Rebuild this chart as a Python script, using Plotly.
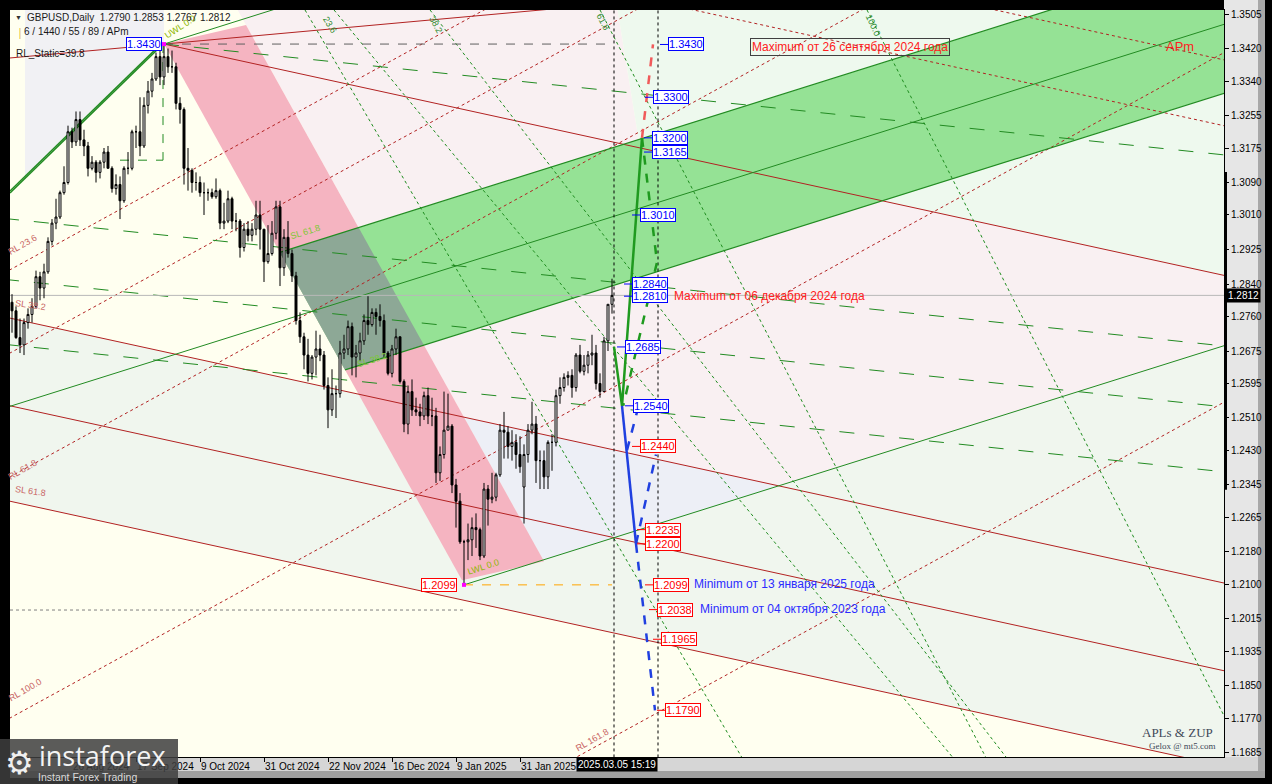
import plotly.graph_objects as go

# ---------------- data ----------------
date_ticks = [15, 31, 47, 63, 79, 95, 111, 127]
date_labels = ["26 Aug 2024", "17 Sep 2024", "9 Oct 2024", "31 Oct 2024",
               "22 Nov 2024", "16 Dec 2024", "9 Jan 2025", "31 Jan 2025"]
price_ticks = [1.3505, 1.3420, 1.3340, 1.3255, 1.3175, 1.3090, 1.3010, 1.2925,
               1.2840, 1.2760, 1.2675, 1.2595, 1.2510, 1.2430, 1.2345, 1.2265,
               1.2180, 1.2100, 1.2015, 1.1935, 1.1850, 1.1770, 1.1685]

# GBPUSD daily, 5 Aug 2024 .. 5 Mar 2025 (bar index 0..150)
opens = [1.2795, 1.2774, 1.2708, 1.2690, 1.2745, 1.2765, 1.2785, 1.2858, 1.2830, 1.2870,
         1.2945, 1.2990, 1.3005, 1.3065, 1.3090, 1.3215, 1.3190, 1.3245, 1.3195, 1.3180,
         1.3125, 1.3140, 1.3115, 1.3140, 1.3165, 1.3125, 1.3075, 1.3085, 1.3045, 1.3125,
         1.3125, 1.3215, 1.3215, 1.3180, 1.3280, 1.3315, 1.3345, 1.3400, 1.3350, 1.3400,
         1.3375, 1.3375, 1.3285, 1.3270, 1.3125, 1.3120, 1.3090, 1.3090, 1.3065, 1.3065,
         1.3065, 1.3055, 1.3070, 1.2990, 1.2995, 1.3050, 1.2995, 1.2995, 1.2930, 1.2975,
         1.2960, 1.2975, 1.3010, 1.2975, 1.2895, 1.2915, 1.2965, 1.3030, 1.2880, 1.2955,
         1.2915, 1.2860, 1.2750, 1.2710, 1.2665, 1.2620, 1.2660, 1.2680, 1.2665, 1.2590,
         1.2530, 1.2570, 1.2570, 1.2670, 1.2680, 1.2735, 1.2660, 1.2670, 1.2700, 1.2750,
         1.2740, 1.2770, 1.2760, 1.2750, 1.2670, 1.2620, 1.2680, 1.2710, 1.2600, 1.2495,
         1.2575, 1.2530, 1.2525, 1.2515, 1.2565, 1.2515, 1.2515, 1.2375, 1.2420, 1.2480,
         1.2490, 1.2345, 1.2305, 1.2205, 1.2205, 1.2210, 1.2240, 1.2235, 1.2170, 1.2335,
         1.2310, 1.2315, 1.2370, 1.2480, 1.2475, 1.2440, 1.2450, 1.2420, 1.2340, 1.2420,
         1.2480, 1.2495, 1.2405, 1.2405, 1.2365, 1.2450, 1.2450, 1.2565, 1.2585, 1.2610,
         1.2615, 1.2585, 1.2665, 1.2625, 1.2640, 1.2665, 1.2670, 1.2595, 1.2575, 1.2700,
         1.2790]
highs = [1.2815, 1.2785, 1.2755, 1.2755, 1.2780, 1.2805, 1.2873, 1.2870, 1.2890, 1.2955,
         1.3000, 1.3050, 1.3070, 1.3130, 1.3230, 1.3225, 1.3265, 1.3265, 1.3220, 1.3190,
         1.3155, 1.3145, 1.3145, 1.3175, 1.3180, 1.3130, 1.3110, 1.3105, 1.3130, 1.3165,
         1.3220, 1.3230, 1.3300, 1.3300, 1.3340, 1.3360, 1.3410, 1.3420, 1.3430, 1.3420,
         1.3415, 1.3385, 1.3300, 1.3275, 1.3175, 1.3125, 1.3115, 1.3105, 1.3090, 1.3075,
         1.3075, 1.3100, 1.3075, 1.3040, 1.3070, 1.3055, 1.3015, 1.3000, 1.2990, 1.2995,
         1.2990, 1.3045, 1.3045, 1.2975, 1.2985, 1.2995, 1.3045, 1.3045, 1.2975, 1.2995,
         1.2925, 1.2870, 1.2770, 1.2720, 1.2705, 1.2665, 1.2725, 1.2715, 1.2675, 1.2610,
         1.2630, 1.2590, 1.2700, 1.2715, 1.2750, 1.2745, 1.2690, 1.2720, 1.2765, 1.2810,
         1.2780, 1.2780, 1.2790, 1.2765, 1.2675, 1.2690, 1.2730, 1.2710, 1.2605, 1.2590,
         1.2605, 1.2560, 1.2545, 1.2575, 1.2585, 1.2560, 1.2535, 1.2440, 1.2575, 1.2570,
         1.2495, 1.2360, 1.2325, 1.2210, 1.2250, 1.2265, 1.2275, 1.2240, 1.2350, 1.2345,
         1.2375, 1.2375, 1.2495, 1.2525, 1.2490, 1.2480, 1.2470, 1.2465, 1.2445, 1.2495,
         1.2550, 1.2515, 1.2430, 1.2430, 1.2455, 1.2470, 1.2580, 1.2610, 1.2620, 1.2625,
         1.2630, 1.2670, 1.2690, 1.2665, 1.2675, 1.2715, 1.2690, 1.2620, 1.2710, 1.2790,
         1.2853]
lows = [1.2720, 1.2705, 1.2670, 1.2665, 1.2730, 1.2745, 1.2780, 1.2800, 1.2805, 1.2865,
        1.2935, 1.2975, 1.3000, 1.3060, 1.3085, 1.3175, 1.3180, 1.3180, 1.3155, 1.3105,
        1.3120, 1.3090, 1.3100, 1.3125, 1.3125, 1.3065, 1.3060, 1.3000, 1.3040, 1.3110,
        1.3120, 1.3175, 1.3155, 1.3175, 1.3260, 1.3300, 1.3340, 1.3330, 1.3330, 1.3360,
        1.3360, 1.3270, 1.3235, 1.3085, 1.3070, 1.3065, 1.3070, 1.3055, 1.3010, 1.3045,
        1.3050, 1.3050, 1.2975, 1.2975, 1.2990, 1.2975, 1.2970, 1.2905, 1.2920, 1.2945,
        1.2945, 1.2960, 1.2925, 1.2845, 1.2890, 1.2910, 1.2950, 1.2835, 1.2860, 1.2905,
        1.2845, 1.2740, 1.2695, 1.2630, 1.2600, 1.2605, 1.2615, 1.2650, 1.2580, 1.2485,
        1.2515, 1.2510, 1.2560, 1.2655, 1.2665, 1.2615, 1.2610, 1.2650, 1.2690, 1.2715,
        1.2735, 1.2715, 1.2735, 1.2660, 1.2615, 1.2610, 1.2665, 1.2595, 1.2475, 1.2470,
        1.2515, 1.2515, 1.2490, 1.2505, 1.2495, 1.2490, 1.2350, 1.2355, 1.2410, 1.2480,
        1.2325, 1.2240, 1.2200, 1.2099, 1.2160, 1.2170, 1.2190, 1.2160, 1.2165, 1.2245,
        1.2300, 1.2305, 1.2365, 1.2410, 1.2410, 1.2405, 1.2385, 1.2375, 1.2250, 1.2400,
        1.2470, 1.2350, 1.2335, 1.2335, 1.2335, 1.2380, 1.2440, 1.2545, 1.2575, 1.2590,
        1.2560, 1.2575, 1.2620, 1.2615, 1.2620, 1.2640, 1.2580, 1.2560, 1.2575, 1.2675,
        1.2767]
closes = [1.2774, 1.2708, 1.2690, 1.2745, 1.2765, 1.2785, 1.2858, 1.2830, 1.2870, 1.2945,
          1.2990, 1.3005, 1.3065, 1.3090, 1.3215, 1.3190, 1.3245, 1.3195, 1.3180, 1.3125,
          1.3140, 1.3115, 1.3140, 1.3165, 1.3125, 1.3075, 1.3085, 1.3045, 1.3125, 1.3125,
          1.3215, 1.3215, 1.3180, 1.3280, 1.3315, 1.3345, 1.3400, 1.3350, 1.3400, 1.3375,
          1.3375, 1.3285, 1.3270, 1.3125, 1.3120, 1.3090, 1.3090, 1.3065, 1.3065, 1.3065,
          1.3055, 1.3070, 1.2990, 1.2995, 1.3050, 1.2995, 1.2995, 1.2930, 1.2975, 1.2960,
          1.2975, 1.3010, 1.2975, 1.2895, 1.2915, 1.2965, 1.3030, 1.2880, 1.2955, 1.2915,
          1.2860, 1.2750, 1.2710, 1.2665, 1.2620, 1.2660, 1.2680, 1.2665, 1.2590, 1.2530,
          1.2570, 1.2570, 1.2670, 1.2680, 1.2735, 1.2660, 1.2670, 1.2700, 1.2750, 1.2740,
          1.2770, 1.2760, 1.2750, 1.2670, 1.2620, 1.2680, 1.2710, 1.2600, 1.2495, 1.2575,
          1.2530, 1.2525, 1.2515, 1.2565, 1.2515, 1.2515, 1.2375, 1.2420, 1.2480, 1.2490,
          1.2345, 1.2305, 1.2205, 1.2205, 1.2210, 1.2240, 1.2235, 1.2170, 1.2335, 1.2310,
          1.2315, 1.2370, 1.2480, 1.2475, 1.2440, 1.2450, 1.2420, 1.2390, 1.2420, 1.2480,
          1.2495, 1.2405, 1.2405, 1.2365, 1.2450, 1.2450, 1.2565, 1.2585, 1.2610, 1.2615,
          1.2585, 1.2665, 1.2625, 1.2640, 1.2665, 1.2670, 1.2595, 1.2575, 1.2700, 1.2790,
          1.2812]

# drawing objects as (bar, price, slope per bar)
red_lines = [(38, 1.3431, -0.000215), (-0.5, 1.2756, -0.000215),
             (-0.5, 1.2540, -0.000215), (-0.5, 1.2305, -0.000215)]
red_static = (38, 1.3431, 0.000089)
red_dotted = [(-0.5, 1.2875, 0.00054), (-0.5, 1.2670, 0.00054), (-0.5, 1.2365, 0.00054),
              (-0.5, 1.1771, 0.00054), (150.25, 1.1724, 0.00054),
              (182, 1.3490, -0.000215), (303, 1.3392, -0.000215)]
fork_top = (157, 1.3197, 0.00031)
fork_mid = (157, 1.3027, 0.00031)
fork_bot = (157, 1.2857, 0.00031)
fork_uwl = (38, 1.3431, 0.00031)
fork_lwl = (113, 1.2099, 0.00031)
green_dashed = [(38, 1.3431, -0.000103), (-0.5, 1.3000, -0.000103),
                (-0.5, 1.2850, -0.000103), (-0.5, 1.2690, -0.000103)]
green_fan = [((73.25, 1.3515), (150.25, 1.2217)), ((80.5, 1.3515), (172, 1.2426)),
             ((104.5, 1.3515), (197, 1.2333)), ((147, 1.3515), (178.75, 1.2909)),
             ((213.75, 1.3515), (244.5, 1.2916))]
handle = (-0.5, 1.3064, 0.000959)
pink_left = (38, 1.3431, -0.001773)
pink_right = (58.5, 1.3478, -0.001773)

# forecast zig-zags
zz_green = ([150.5, 152.5, 157.5], [1.2685, 1.2540, 1.3200])
zz_green_d = ([157.5, 161.25, 152.8], [1.3200, 1.2894, 1.2540])
zz_red_d = ([157.5, 160.25], [1.3200, 1.3430])
zz_blue = ([152.5, 156.0], [1.2540, 1.2200])
zz_blue_d = [([153.75, 156.5], [1.2431, 1.2534]), ([156.0, 161.0], [1.2200, 1.2420]),
             ([156.0, 160.75], [1.2200, 1.1790])]

blue_levels = [1.3430, 1.3300, 1.3200, 1.3165, 1.3010, 1.2840, 1.2810, 1.2685, 1.2540]
blue_level_bar = [164, 160.25, 160, 160, 157, 155, 155, 153.25, 155.25]
red_levels = [1.2440, 1.2235, 1.2200, 1.2099, 1.2038, 1.1965, 1.1790]
red_level_bar = [157, 158.25, 158.25, 160.25, 161.25, 162.25, 163.25]

last_price = 1.2812

# ---------------- helpers ----------------
W, H = 1272, 784
ML, MR, MT, MB = 10, 48, 10, 27
PW, PH = W - ML - MR, H - MT - MB
XL, XR = -2, 310
TOP, BOTTOM = 1.36, 1.16

RED = "#B22222"
GREEN = "#228B22"
FONT = "Liberation Sans"


def px(x):
    return (x - ML) / PW


def py(y):
    return (H - MB - y) / PH


def at(ln, i):
    return ln[1] + ln[2] * (i - ln[0])


def cross(a, b):
    i = (b[1] - a[1] + a[2] * a[0] - b[2] * b[0]) / (a[2] - b[2])
    return (i, at(a, i))


def two_pt(a, b):
    return (a[0], a[1], (b[1] - a[1]) / (b[0] - a[0]))


shapes = []


def poly(pts, color):
    path = "M " + " L ".join(f"{i:.3f},{p:.5f}" for i, p in pts) + " Z"
    shapes.append(dict(type="path", path=path, xref="x", yref="y",
                       fillcolor=color, line=dict(width=0), layer="below"))


def seg(ln, i0, i1, color, dash="solid", width=1, layer="below"):
    shapes.append(dict(type="line", xref="x", yref="y", x0=i0, y0=at(ln, i0),
                       x1=i1, y1=at(ln, i1), layer=layer,
                       line=dict(color=color, dash=dash, width=width)))


def hline(y, i0, i1, color, dash="solid"):
    shapes.append(dict(type="line", xref="x", yref="y", x0=i0, x1=i1, y0=y, y1=y,
                       line=dict(color=color, dash=dash, width=1), layer="below"))


def vline(x, p0, p1, color, dash="solid"):
    shapes.append(dict(type="line", xref="x", yref="y", x0=x, x1=x, y0=p0, y1=p1,
                       line=dict(color=color, dash=dash, width=1), layer="below"))


R1, R2, R3, R4 = red_lines
X = cross(R2, fork_lwl)
pr_top_i = pink_right[0] + (TOP - pink_right[1]) / pink_right[2]
pr_r2 = cross(pink_right, R2)

# background tints
poly([(3.25, TOP), (38, TOP), (38, 1.3431), (3.25, at(handle, 3.25))], "#F1F1F4")
poly([(pr_top_i, TOP), (150, TOP), (157, at(R1, 157)), (XR, at(R1, XR)),
      (XR, at(fork_lwl, XR)), X, pr_r2], "#F9F0F2")
poly([(150, TOP), (XR, TOP), (XR, at(R1, XR)), (157, at(R1, 157))], "#EEF9EE")
poly([(XL, at(R2, XL)), X, (XR, at(fork_lwl, XR)), (XR, at(R4, XR)),
      (XL, at(R4, XL))], "#F0F6EE")
poly([pr_r2, X, cross(pink_right, fork_lwl)], "#EDEFF6")

# pink channel, green channel, overlap
A = (pink_left[0], pink_left[1])
B = (pink_right[0], pink_right[1])
C = (133, at(pink_right, 133))
D = (112.5, at(pink_left, 112.5))
poly([A, B, C, D], "#F5B4C1")
g1, g2 = cross(fork_top, pink_left), cross(fork_bot, pink_left)
poly([g1, (XR, at(fork_top, XR)), (XR, at(fork_bot, XR)), g2], "#95E295")
poly([g1, cross(fork_top, pink_right), cross(fork_bot, pink_right), g2], "#8DA896")

# red lines
seg(red_static, XL, 150, RED)
seg(R1, 38, XR, RED)
for ln in red_lines[1:]:
    seg(ln, XL, XR, RED)
for ln in red_dotted:
    seg(ln, XL, XR, RED, "dot")

# green pitchfork
seg(fork_uwl, 38, XR, GREEN)
seg(fork_lwl, 113, XR, GREEN)
seg(fork_mid, XL, XR, GREEN)
seg(fork_top, g1[0], XR, GREEN, width=1.2)
seg(fork_bot, g2[0], XR, GREEN, width=1.2)
for ln in green_dashed:
    seg(ln, XL if ln[0] < 0 else 38, XR, GREEN, "longdash")
for a, b in green_fan:
    ln = two_pt(a, b)
    seg(ln, a[0], a[0] + (BOTTOM - a[1]) / ln[2], "#1E8C1E", "dot")
seg(handle, -0.5, 37, GREEN, width=1.5)
seg((handle[0], handle[1] + 0.0005, handle[2]), -0.5, 36.6, GREEN, width=1.5)

# level lines
hline(1.3431, 38, 150, "#606060", "dash")
vline(37.75, 1.3431, 1.3145, GREEN, "dash")
hline(1.3145, 27, 37.75, GREEN, "dash")
hline(1.2037, -0.5, 112.75, "#808080", "dot")
hline(1.2099, 113, 150, "#FFA500", "dash")
hline(last_price, XL, XR, "#B8B8B8")
vline(150.5, BOTTOM, TOP, "black", "3px,3px")
vline(161.5, BOTTOM, TOP, "black", "3px,3px")

# level box connectors
for lv, b in zip(blue_levels, blue_level_bar):
    shapes.append(dict(type="line", xref="x", yref="y", x0=b - 2, x1=b, y0=lv, y1=lv,
                       line=dict(color="#0000FF", width=1), layer="above"))
for lv, b in zip(red_levels, red_level_bar):
    shapes.append(dict(type="line", xref="x", yref="y", x0=b - 2, x1=b, y0=lv, y1=lv,
                       line=dict(color="#FF0000", width=1), layer="above"))

# frame decoration (right + bottom panels, logo)
shapes += [
    dict(type="rect", xref="paper", yref="paper", x0=1.0, x1=px(1258), y0=py(778), y1=py(0),
         fillcolor="#E6E6E6", line=dict(width=0), layer="below"),
    dict(type="rect", xref="paper", yref="paper", x0=px(1258), x1=px(1265), y0=py(778), y1=py(0),
         fillcolor="#A8A8A8", line=dict(width=0), layer="below"),
    dict(type="rect", xref="paper", yref="paper", x0=px(10), x1=px(1258), y0=py(771), y1=0,
         fillcolor="#D6D6D6", line=dict(width=0), layer="below"),
    dict(type="rect", xref="paper", yref="paper", x0=px(10), x1=px(1265), y0=py(778), y1=py(771),
         fillcolor="#A0A0A0", line=dict(width=0), layer="below"),
    dict(type="line", xref="paper", yref="y", x0=px(1225.5), x1=px(1225.5), y0=1.3116, y1=1.2333,
         line=dict(color="black", width=3), layer="above"),
    dict(type="rect", xref="paper", yref="paper", x0=px(0), x1=px(178), y0=py(784), y1=py(739),
         fillcolor="rgba(62,62,62,0.85)", line=dict(width=0), layer="above"),
]

fig = go.Figure()
fig.add_trace(go.Candlestick(
    x=list(range(len(closes))), open=opens, high=highs, low=lows, close=closes,
    increasing=dict(line=dict(color="black", width=1), fillcolor="white"),
    decreasing=dict(line=dict(color="black", width=1), fillcolor="black"),
    whiskerwidth=0, hoverinfo="skip"))

# forecast paths
fig.add_trace(go.Scatter(x=zz_green[0], y=zz_green[1], mode="lines",
                         line=dict(color="#1F9A1F", width=2.5)))
fig.add_trace(go.Scatter(x=zz_green_d[0], y=zz_green_d[1], mode="lines",
                         line=dict(color="#1F9A1F", width=2.5, dash="dash")))
fig.add_trace(go.Scatter(x=zz_red_d[0], y=zz_red_d[1], mode="lines",
                         line=dict(color="#F05A5A", width=2.5, dash="dash")))
fig.add_trace(go.Scatter(x=zz_blue[0], y=zz_blue[1], mode="lines",
                         line=dict(color="#2040E0", width=2.5)))
for xs, ys in zz_blue_d:
    fig.add_trace(go.Scatter(x=xs, y=ys, mode="lines",
                             line=dict(color="#2040E0", width=2.5, dash="dash")))
fig.add_trace(go.Scatter(x=[38, 113], y=[1.3431, 1.2099], mode="markers",
                         marker=dict(symbol="square", size=4, color="magenta")))

ann = []
for lv, b in zip(blue_levels, blue_level_bar):
    ann.append(dict(x=b, y=lv, text=f"{lv:.4f}", xanchor="left", borderpad=0,
                    bordercolor="#0000FF", borderwidth=1, bgcolor="white",
                    font=dict(color="#0000FF", size=11, family=FONT)))
for lv, b in zip(red_levels, red_level_bar):
    ann.append(dict(x=b, y=lv, text=f"{lv:.4f}", xanchor="left", borderpad=0,
                    bordercolor="#FF0000", borderwidth=1, bgcolor="white",
                    font=dict(color="#FF0000", size=11, family=FONT)))
ann.append(dict(x=37.5, y=1.3431, text="1.3430", xanchor="right", borderpad=0,
                bordercolor="#0000FF", borderwidth=1, bgcolor="white",
                font=dict(color="#0000FF", size=11, family=FONT)))
ann.append(dict(x=111.25, y=1.2099, text="1.2099", xanchor="right", borderpad=0,
                bordercolor="#FF0000", borderwidth=1, bgcolor="white",
                font=dict(color="#FF0000", size=11, family=FONT)))

ann += [
    dict(x=184.5, y=1.3424, text="Maximum от 26 сентября 2024 года", xanchor="left",
         bordercolor="#404040", borderwidth=1, borderpad=1,
         font=dict(color="#FF2020", size=12, family=FONT)),
    dict(x=165, y=1.2811, text="Maximum от 06 декабря 2024 года", xanchor="left",
         font=dict(color="#FF2020", size=12, family=FONT)),
    dict(x=170, y=1.2101, text="Minimum от 13 января 2025 года", xanchor="left",
         font=dict(color="#2B2BFF", size=12, family=FONT)),
    dict(x=171.5, y=1.2040, text="Minimum от 04 октября 2023 года", xanchor="left",
         font=dict(color="#2B2BFF", size=12, family=FONT)),
    dict(x=292, y=1.3424, text="APm", font=dict(color="#FF2020", size=13, family=FONT)),
    dict(x=300.75, y=1.1736, text="APLs & ZUP", xanchor="right",
         font=dict(color="#404858", size=13, family="Liberation Serif")),
    dict(x=301.5, y=1.1701, text="Gelox @ mt5.com", xanchor="right",
         font=dict(color="#404858", size=9, family="Liberation Serif")),
]

# small rotated labels on the tools
tool_labels = [
    (42, 1.3473, "UWL 0.0", -33, "#8DB600"), (117.75, 1.2143, "LWL 0.0", -18, "#8DB600"),
    (73.25, 1.2968, "SL 61.8", -17, "#7CC832"), (90, 1.2653, "SL 38.2", -17, "#7CC832"),
    (79.5, 1.3478, "23.6", 58, "#2E8B2E"), (106, 1.3478, "38.2", 62, "#2E8B2E"),
    (147.75, 1.3485, "61.8", 62, "#2E8B2E"), (215.25, 1.3478, "100.0", 65, "#2E8B2E"),
    (2.5, 1.2936, "RL 23.6", -30, "#C86464"), (4.5, 1.2788, "SL 38.2", 8, "#C86464"),
    (2.5, 1.2382, "RL 61.8", -30, "#C86464"), (4.5, 1.2330, "SL 61.8", 8, "#C86464"),
    (3.25, 1.1840, "RL 100.0", -30, "#C86464"), (145, 1.1717, "RL 161.8", -30, "#C86464"),
]
for i, p, t, a, c in tool_labels:
    ann.append(dict(x=i, y=p, text=t, textangle=a, font=dict(color=c, size=9, family=FONT)))

# header, price tag, time tag, logo
paper = dict(xref="paper", yref="paper", showarrow=False)
ann += [
    dict(x=px(13), y=py(17), text="▼", xanchor="left", font=dict(size=7, color="#333"), **paper),
    dict(x=px(25), y=py(17), text="GBPUSD,Daily  1.2790 1.2853 1.2767 1.2812", xanchor="left",
         font=dict(size=10, color="#1A1A1A", family=FONT), **paper),
    dict(x=px(15), y=py(31), text="|", xanchor="left", font=dict(size=11, color="#E0B030"), **paper),
    dict(x=px(22), y=py(31), text="6 / 1440 / 55 / 89 / APm", xanchor="left",
         font=dict(size=10, color="#1A1A1A", family=FONT), **paper),
    dict(x=px(14), y=py(54), text="RL_Static=39.8", xanchor="left",
         font=dict(size=10, color="#1A1A1A", family=FONT), **paper),
    dict(x=px(576), y=py(765), text="2025.03.05 15:19", xanchor="left", bgcolor="black",
         borderpad=1, font=dict(size=10, color="white", family=FONT), **paper),
    dict(x=px(3), y=py(761), text="⚙", xanchor="left", font=dict(size=32, color="#F0F0F0"), **paper),
    dict(x=px(37), y=py(755), text="instaforex", xanchor="left",
         font=dict(size=27, color="#F4F4F4", family="Open Sans"), **paper),
    dict(x=px(36), y=py(777), text="Instant Forex Trading", xanchor="left",
         font=dict(size=10.5, color="#DADADA", family=FONT), **paper),
    dict(xref="paper", yref="y", x=px(1226), y=last_price, text="1.2812", xanchor="left",
         showarrow=False, bgcolor="black", borderpad=1,
         font=dict(size=10, color="white", family=FONT)),
]
for a in ann:
    a.setdefault("showarrow", False)
    a.setdefault("yanchor", "middle")

fig.update_layout(
    width=W, height=H, margin=dict(l=ML, r=MR, t=MT, b=MB, autoexpand=False),
    paper_bgcolor="black", plot_bgcolor="#FFFFF0", showlegend=False,
    shapes=shapes, annotations=ann,
    xaxis=dict(range=[-0.5, 303], rangeslider=dict(visible=False), showgrid=False,
               zeroline=False, tickvals=date_ticks, ticktext=date_labels,
               ticks="outside", ticklen=4, tickcolor="black", tickangle=0,
               automargin=False, ticklabelposition="outside right",
               tickfont=dict(size=10, color="black", family=FONT),
               showline=True, mirror=True, linecolor="black", linewidth=1),
    yaxis=dict(range=[1.16750, 1.35149], side="right", showgrid=False, zeroline=False,
               tickvals=price_ticks, ticktext=[f"{v:.4f}" for v in price_ticks],
               ticks="outside", ticklen=4, tickcolor="black", automargin=False,
               tickfont=dict(size=10, color="black", family=FONT),
               showline=True, mirror=True, linecolor="black", linewidth=1),
)

fig.write_html("out.html", config={"displayModeBar": False},
               post_script="document.body.style.margin='0';"
                           "document.body.style.overflow='hidden';"
                           "document.body.style.background='black';")
